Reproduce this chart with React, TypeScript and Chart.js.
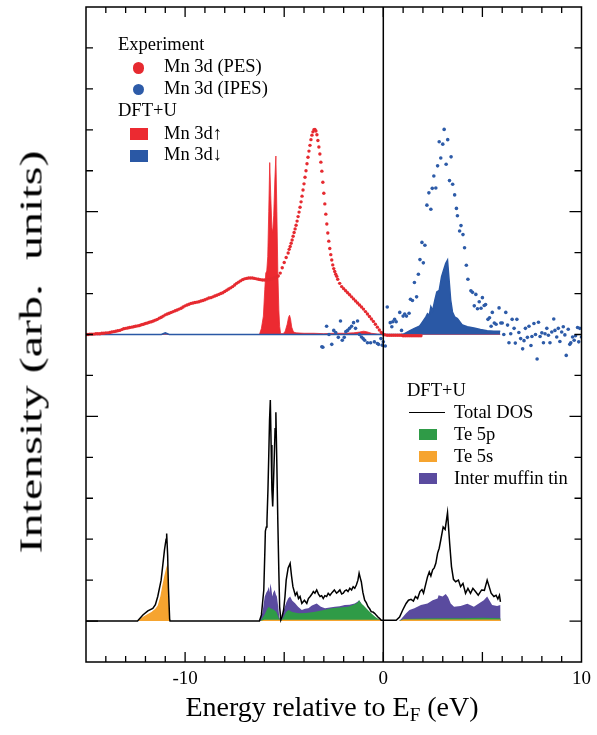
import React, { useEffect, useRef } from 'react';
import { Chart, registerables } from 'chart.js';
Chart.register(...registerables);

// ---------- axes ----------
const X_MIN = -15;
const X_MAX = 10;
const Y_MIN = -1;
const Y_MAX = 15;
const TOP_BASE = 7; // baseline of the upper (Mn 3d) panel on the shared intensity axis
const X_LABELS = [-10, 0, 10];

// ---------- Experiment: Mn 3d (PES), three sampled segments ----------
const pesStartA = -15.0, pesStepA = 0.1;
const pesA = [
  0.00, 0.00, 0.01, 0.01, 0.01, 0.02, 0.02, 0.02, 0.03, 0.03,
  0.04, 0.04, 0.05, 0.06, 0.07, 0.08, 0.09, 0.10, 0.12, 0.14,
  0.15, 0.16, 0.17, 0.18, 0.19, 0.20, 0.21, 0.22, 0.24, 0.25,
  0.27, 0.28, 0.30, 0.31, 0.33, 0.35, 0.37, 0.40, 0.42, 0.45,
  0.48, 0.50, 0.52, 0.54, 0.56, 0.58, 0.60, 0.62, 0.64, 0.67,
  0.70, 0.72, 0.74, 0.76, 0.77, 0.78, 0.79, 0.80, 0.82, 0.83,
  0.85, 0.87, 0.89, 0.90, 0.92, 0.94, 0.96, 0.98, 1.00, 1.02,
  1.05, 1.08, 1.11, 1.14, 1.17, 1.21, 1.25, 1.28, 1.31, 1.34,
  1.36, 1.37, 1.38, 1.38, 1.38, 1.37, 1.36, 1.35, 1.34, 1.33,
  1.33, 1.33, 1.34, 1.35, 1.36, 1.38, 1.40, 1.43, 1.50, 1.63,
  1.76, 1.88, 1.99,
];
const pesStartB = -4.75, pesStepB = 0.05;
const pesB = [
  2.08, 2.15, 2.23, 2.31, 2.40, 2.49, 2.58, 2.67, 2.77, 2.88,
  2.99, 3.11, 3.24, 3.38, 3.53, 3.68, 3.84, 4.00, 4.17, 4.33,
  4.48, 4.62, 4.76, 4.87, 4.95, 5.00, 5.01, 4.97, 4.88, 4.74,
  4.58, 4.41, 4.21, 3.99, 3.72, 3.45, 3.19, 2.94, 2.70, 2.48,
  2.28, 2.10, 1.95, 1.82, 1.70, 1.61, 1.54, 1.47, 1.42,
];
const pesStartC = -2.3, pesStepC = 0.1;
const pesC = [
  1.35, 1.25, 1.17, 1.12, 1.07, 1.02, 0.97, 0.92, 0.87, 0.82,
  0.77, 0.72, 0.67, 0.62, 0.56, 0.50, 0.44, 0.38, 0.32, 0.25,
  0.18, 0.11, 0.05, 0.01, -0.01, -0.02, -0.02, -0.02, -0.02, -0.02,
  -0.02, -0.02, -0.02, -0.03, -0.03, -0.03, -0.03, -0.03, -0.03, -0.03,
  -0.03, -0.03, -0.03,
];

// ---------- Experiment: Mn 3d (IPES) ----------
const ipesE = [
  -3.10, -3.05, -2.86, -2.74, -2.60, -2.50, -2.40, -2.27, -2.16, -2.07,
  -1.97, -1.89, -1.80, -1.70, -1.60, -1.50, -1.40, -1.30, -1.20, -1.10,
  -1.02, -0.94, -0.80, -0.64, -0.45, -0.30, -0.24, -0.12, -0.05, 0.00,
  0.10, 0.20, 0.35, 0.43, 0.48, 0.57, 0.65, 0.83, 0.92, 1.00,
  1.08, 1.17, 1.30, 1.37, 1.47, 1.57, 1.68, 1.77, 1.85, 1.95,
  2.02, 2.10, 2.20, 2.30, 2.40, 2.47, 2.55, 2.65, 2.74, 2.82,
  2.90, 3.00, 3.07, 3.17, 3.25, 3.34, 3.42, 3.50, 3.60, 3.69,
  3.74, 3.85, 3.92, 4.02, 4.10, 4.19, 4.27, 4.42, 4.50, 4.59,
  4.67, 4.75, 4.84, 4.93, 5.00, 5.09, 5.16, 5.28, 5.36, 5.44,
  5.50, 5.60, 5.69, 5.84, 5.93, 6.00, 6.08, 6.18, 6.27, 6.34,
  6.43, 6.50, 6.60, 6.66, 6.74, 6.84, 6.93, 7.03, 7.10, 7.17,
  7.27, 7.35, 7.45, 7.50, 7.60, 7.68, 7.76, 7.83, 7.91, 8.00,
  8.08, 8.16, 8.25, 8.33, 8.41, 8.50, 8.60, 8.66, 8.75, 8.83,
  8.91, 9.00, 9.08, 9.16, 9.23, 9.33, 9.41, 9.46, 9.55, 9.63,
  9.70, 9.80, 9.86, 9.91, 10.00,
];
const ipesI = [
  -0.30, -0.31, 0.20, 0.00, -0.24, 0.10, 0.05, -0.07, 0.33, -0.14,
  -0.07, 0.07, 0.10, 0.15, 0.20, 0.29, 0.15, 0.33, 0.00, -0.06,
  -0.10, -0.14, -0.20, -0.20, -0.18, -0.22, -0.24, -0.10, -0.26, -0.18,
  -0.28, 0.67, 0.29, 0.19, 0.31, 0.37, 0.31, 0.54, 0.10, 0.45,
  0.50, 0.45, 0.52, 0.86, 0.83, 1.27, 0.92, 1.47, 1.83, 2.25,
  1.75, 2.18, 3.16, 3.46, 3.06, 3.57, 3.87, 3.58, 4.12, 4.71,
  4.31, 4.65, 5.01, 4.16, 4.76, 3.76, 4.34, 3.67, 3.41, 3.08,
  2.90, 2.53, 2.66, 2.44, 2.12, 1.69, 1.35, 1.07, 1.03, 0.70,
  0.98, 0.63, 0.80, 0.64, 0.90, 0.71, 0.73, 0.37, 0.41, 0.20,
  0.54, 0.28, 0.25, 0.65, 0.28, 0.28, 0.00, 0.54, 0.23, -0.20,
  0.02, 0.37, 0.15, -0.21, 0.37, 0.05, -0.10, -0.35, -0.15, 0.15,
  -0.07, 0.20, -0.27, -0.05, 0.27, 0.00, -0.60, 0.30, -0.05, 0.04,
  -0.20, 0.02, 0.15, -0.02, -0.20, 0.06, 0.38, 0.10, -0.06, 0.15,
  -0.17, 0.06, 0.19, -0.01, -0.51, 0.13, -0.24, -0.20, -0.06, -0.14,
  -0.03, 0.17, -0.18, 0.15, -0.06,
];

// ---------- DFT+U: Mn 3d spin up / spin down ----------
const upE = [
  -15, -6.25, -6.15, -6.05, -5.98, -5.93, -5.88, -5.83, -5.78, -5.73,
  -5.68, -5.62, -5.58, -5.53, -5.47, -5.42, -5.37, -5.32, -5.27, -5.23,
  -5.18, -5.05, -4.95, -4.85, -4.78, -4.73, -4.68, -4.62, -4.53, -4.40,
  -4.00, -3.50, -3.00, -2.50, -2.00, -1.50, -1.20, -1.00, -0.85, -0.60,
  -0.30, 0.00, 5.90,
];
const upI = [
  0, 0, 0.15, 0.45, 1.10, 1.50, 1.55, 1.90, 3.00, 4.20,
  3.40, 2.60, 2.50, 2.90, 3.80, 4.36, 3.00, 1.50, 0.60, 0.20,
  0.02, 0.02, 0.08, 0.25, 0.42, 0.47, 0.38, 0.18, 0.06, 0.04,
  0.03, 0.03, 0.02, 0.03, 0.03, 0.04, 0.06, 0.08, 0.07, 0.03,
  0.01, 0, 0,
];
const dnE = [
  -15, -11.2, -11.0, -10.8, 0.90, 1.07, 1.32, 1.57, 1.82, 1.98,
  2.15, 2.23, 2.32, 2.40, 2.49, 2.60, 2.70, 2.82, 2.94, 3.04,
  3.15, 3.24, 3.32, 3.40, 3.49, 3.60, 3.74, 3.99, 4.24, 4.57,
  4.90, 5.24, 5.58, 5.90,
];
const dnI = [
  0, 0, 0.04, 0, 0, 0.02, 0.09, 0.15, 0.20, 0.31,
  0.43, 0.51, 0.47, 0.68, 0.59, 0.84, 1.04, 1.08, 1.41, 1.57,
  1.74, 1.82, 1.33, 0.84, 0.55, 0.43, 0.39, 0.23, 0.19, 0.16,
  0.12, 0.09, 0.08, 0.08,
];

// ---------- DFT+U: lower panel ----------
const totE = [
  -15, -12.40, -12.13, -11.88, -11.63, -11.50, -11.38, -11.21, -11.04, -10.96,
  -10.93, -10.88, -10.84, -10.78, -10.76, -6.25, -6.15, -6.03, -5.97, -5.95,
  -5.90, -5.87, -5.82, -5.78, -5.74, -5.70, -5.66, -5.62, -5.58, -5.54,
  -5.50, -5.46, -5.42, -5.37, -5.32, -5.27, -5.23, -5.17, -5.10, -5.03,
  -4.96, -4.90, -4.80, -4.70, -4.63, -4.56, -4.44, -4.36, -4.28, -4.20,
  -4.11, -3.98, -3.86, -3.78, -3.69, -3.60, -3.53, -3.45, -3.36, -3.27,
  -3.19, -3.11, -3.03, -2.95, -2.86, -2.78, -2.69, -2.58, -2.47, -2.36,
  -2.27, -2.19, -2.10, -2.02, -1.94, -1.86, -1.78, -1.69, -1.60, -1.52,
  -1.44, -1.36, -1.28, -1.22, -1.16, -1.11, -1.03, -0.94, -0.86, -0.77,
  -0.69, -0.61, -0.52, -0.44, -0.35, -0.27, -0.18, -0.10, 0.00, 0.23,
  0.65, 0.82, 0.98, 1.15, 1.27, 1.40, 1.52, 1.62, 1.73, 1.85,
  1.95, 2.03, 2.15, 2.23, 2.32, 2.40, 2.49, 2.57, 2.65, 2.74,
  2.82, 2.90, 3.02, 3.12, 3.24, 3.35, 3.44, 3.54, 3.65, 3.79,
  3.90, 4.02, 4.15, 4.27, 4.40, 4.52, 4.65, 4.79, 4.96, 5.10,
  5.24, 5.33, 5.44, 5.58, 5.69, 5.78, 5.86, 5.91,
];
const totI = [
  0, 0, 0.15, 0.25, 0.31, 0.40, 0.60, 1.00, 1.74, 2.00,
  2.14, 1.60, 0.80, 0.05, 0, 0, 0.15, 0.76, 1.80, 2.20,
  2.30, 2.43, 3.20, 4.02, 4.90, 5.40, 4.30, 3.20, 2.80, 3.40,
  4.02, 4.70, 5.10, 3.80, 2.39, 1.20, 0.35, 0.03, 0.12, 0.27,
  0.60, 1.00, 1.30, 1.41, 1.10, 0.84, 0.63, 0.70, 0.55, 0.60,
  0.43, 0.51, 0.43, 0.55, 0.60, 0.66, 0.72, 0.68, 0.76, 0.66,
  0.60, 0.62, 0.55, 0.62, 0.60, 0.68, 0.63, 0.70, 0.76, 0.68,
  0.72, 0.76, 0.66, 0.68, 0.74, 0.76, 0.72, 0.80, 0.76, 0.84,
  0.80, 0.88, 1.00, 1.17, 1.05, 0.96, 0.70, 0.51, 0.45, 0.35,
  0.30, 0.23, 0.22, 0.19, 0.14, 0.10, 0.06, 0.02, 0.02, 0.02,
  0.02, 0.10, 0.27, 0.43, 0.51, 0.53, 0.49, 0.60, 0.55, 0.72,
  0.77, 0.68, 0.92, 1.08, 1.20, 1.10, 1.25, 1.30, 1.41, 1.66,
  1.78, 1.98, 2.30, 2.24, 2.65, 1.89, 1.33, 1.02, 0.96, 1.00,
  0.84, 0.92, 0.68, 0.80, 0.68, 0.80, 0.72, 0.63, 0.76, 0.75,
  1.00, 0.86, 0.68, 0.60, 0.63, 0.54, 0.63, 0.47,
];
const imtE = [
  -6.25, -6.10, -5.98, -5.90, -5.83, -5.78, -5.74, -5.70, -5.65, -5.60,
  -5.55, -5.48, -5.42, -5.37, -5.30, -5.25, -5.17, -5.10, -5.03, -4.90,
  -4.80, -4.70, -4.60, -4.44, -4.30, -4.11, -3.95, -3.78, -3.60, -3.36,
  -3.15, -2.94, -2.70, -2.44, -2.20, -1.94, -1.70, -1.44, -1.30, -1.22,
  -1.10, -0.94, -0.80, -0.61, -0.40, -0.20, 0.00, 0.80, 0.90, 1.15,
  1.32, 1.57, 1.90, 2.23, 2.49, 2.74, 2.79, 2.99, 3.15, 3.27,
  3.40, 3.57, 3.90, 4.24, 4.57, 4.82, 5.07, 5.24, 5.49, 5.74,
  5.91, 5.92,
];
const imtI = [
  0, 0.20, 0.60, 0.70, 0.75, 0.84, 0.70, 0.92, 0.80, 0.60,
  0.70, 0.76, 0.65, 0.60, 0.35, 0.10, 0, 0.10, 0.25, 0.45,
  0.55, 0.60, 0.50, 0.43, 0.35, 0.27, 0.30, 0.31, 0.38, 0.43,
  0.35, 0.31, 0.33, 0.35, 0.36, 0.39, 0.40, 0.43, 0.47, 0.51,
  0.42, 0.27, 0.18, 0.10, 0.05, 0.02, 0, 0, 0.05, 0.19,
  0.27, 0.31, 0.39, 0.43, 0.51, 0.55, 0.63, 0.60, 0.66, 0.58,
  0.43, 0.35, 0.37, 0.42, 0.35, 0.43, 0.51, 0.60, 0.39, 0.37,
  0.39, 0,
];
const te5pE = [
  -6.20, -6.00, -5.85, -5.78, -5.70, -5.55, -5.40, -5.25, -5.17, -5.05,
  -4.90, -4.78, -4.60, -4.28, -3.90, -3.44, -3.00, -2.61, -2.20, -1.77,
  -1.50, -1.30, -1.22, -1.10, -1.02, -0.80, -0.61, -0.40, -0.20, -0.10,
  0.80, 1.00, 2.00, 3.00, 4.00, 5.00, 5.91, 5.92,
];
const te5pI = [
  0, 0.15, 0.30, 0.35, 0.31, 0.28, 0.23, 0.05, 0, 0.08,
  0.22, 0.27, 0.22, 0.19, 0.20, 0.23, 0.27, 0.31, 0.33, 0.35,
  0.40, 0.45, 0.51, 0.42, 0.39, 0.28, 0.19, 0.10, 0.04, 0,
  0, 0.05, 0.06, 0.07, 0.07, 0.08, 0.07, 0,
];
const te5sE = [
  -12.40, -12.20, -11.97, -11.70, -11.50, -11.38, -11.25, -11.16, -11.05, -10.95,
  -10.88, -10.85, -10.80, -10.76, -6.20, -6.00, -5.20, -5.17, -5.10, -0.20,
  0.00, 0.80, 1.00, 5.91, 5.92,
];
const te5sI = [
  0, 0.08, 0.15, 0.22, 0.30, 0.38, 0.60, 0.84, 1.10, 1.30,
  1.41, 1.00, 0.30, 0, 0, 0.03, 0.03, 0, 0.03, 0.03,
  0, 0, 0.04, 0.04, 0,
];

// ---------- colours ----------
const C_PES = '#e62a30';
const C_IPES = '#2d5ba8';
const C_UP = '#ec2a31';
const C_DN = '#2a58a5';
const C_IMT = '#5a4b9f';
const C_TE5P = '#2f9b47';
const C_TE5S = '#f6a42f';
const FONT = '"Liberation Serif", "Times New Roman", serif';

const pairs = (xs: number[], ys: number[], off = 0) => xs.map((x, i) => ({ x, y: ys[i] + off }));
const grid = (start: number, step: number, ys: number[], off = 0) =>
  ys.map((y, i) => ({ x: Math.round((start + i * step) * 1000) / 1000, y: y + off }));

const framePlugin = {
  id: 'frame',
  afterDatasetsDraw(chart: any) {
    const { ctx, chartArea: a, scales } = chart;
    const x = scales.x;
    const y = scales.y;
    ctx.save();
    ctx.strokeStyle = '#000';
    ctx.lineWidth = 1.5;
    ctx.strokeRect(a.left, a.top, a.right - a.left, a.bottom - a.top);
    const x0 = x.getPixelForValue(0);
    ctx.beginPath();
    ctx.moveTo(x0, a.top);
    ctx.lineTo(x0, a.bottom);
    ctx.stroke();
    ctx.lineWidth = 1.3;
    ctx.beginPath();
    for (let v = X_MIN + 1; v < X_MAX; v++) {
      const px = x.getPixelForValue(v);
      const len = v % 5 === 0 ? 10 : 6;
      ctx.moveTo(px, a.bottom);
      ctx.lineTo(px, a.bottom - len);
      ctx.moveTo(px, a.top);
      ctx.lineTo(px, a.top + len);
    }
    for (let v = Y_MIN + 1; v < Y_MAX; v++) {
      const py = y.getPixelForValue(v);
      const len = v % 5 === 0 ? 12 : 7;
      ctx.moveTo(a.left, py);
      ctx.lineTo(a.left + len, py);
      ctx.moveTo(a.right, py);
      ctx.lineTo(a.right - len, py);
    }
    ctx.stroke();
    ctx.restore();
  },
};

function Txt({ x, y, size, children, center }: any) {
  return (
    <div
      style={{
        position: 'absolute',
        left: x,
        top: y - 0.8375 * size,
        fontSize: size,
        lineHeight: `${size}px`,
        whiteSpace: 'nowrap',
        transform: center ? 'translateX(-50%)' : undefined,
      }}
    >
      {children}
    </div>
  );
}

function Box({ x, y, w, h, color, round }: any) {
  return (
    <div
      style={{
        position: 'absolute',
        left: x,
        top: y,
        width: w,
        height: h,
        background: color,
        borderRadius: round ? '50%' : 0,
      }}
    />
  );
}

export default function App() {
  const ref = useRef<HTMLCanvasElement>(null);
  useEffect(() => {
    const pes = [
      ...grid(pesStartA, pesStepA, pesA, TOP_BASE),
      ...grid(pesStartB, pesStepB, pesB, TOP_BASE),
      ...grid(pesStartC, pesStepC, pesC, TOP_BASE),
    ];
    const fillSet = (label: string, data: any[], color: string, base: number, order: number, bw = 0, bc?: string) => ({
      label,
      data,
      borderColor: bc || color,
      backgroundColor: color,
      borderWidth: bw,
      pointRadius: 0,
      fill: { value: base },
      tension: 0,
      order,
    });
    const chart = new Chart(ref.current as HTMLCanvasElement, {
      type: 'line',
      data: {
        datasets: [
          {
            label: 'Total DOS',
            data: pairs(totE, totI),
            borderColor: '#000',
            borderWidth: 1.5,
            pointRadius: 0,
            fill: false,
            tension: 0,
            order: 1,
          } as any,
          fillSet('Te 5s', pairs(te5sE, te5sI), C_TE5S, 0, 2),
          fillSet('Te 5p', pairs(te5pE, te5pI), C_TE5P, 0, 3),
          fillSet('Inter muffin tin', pairs(imtE, imtI), C_IMT, 0, 4),
          {
            label: 'Mn 3d (IPES)',
            data: pairs(ipesE, ipesI, TOP_BASE),
            showLine: false,
            pointRadius: 1.8,
            pointBorderWidth: 0,
            pointBackgroundColor: C_IPES,
            backgroundColor: C_IPES,
            borderColor: C_IPES,
            order: 5,
          } as any,
          {
            label: 'Mn 3d (PES)',
            data: pes,
            showLine: false,
            pointRadius: 1.7,
            pointBorderWidth: 0,
            pointBackgroundColor: C_PES,
            backgroundColor: C_PES,
            borderColor: C_PES,
            order: 6,
          } as any,
          fillSet('Mn 3d down', pairs(dnE, dnI, TOP_BASE), C_DN, TOP_BASE, 7, 1.5),
          fillSet('Mn 3d up', pairs(upE, upI, TOP_BASE), C_UP, TOP_BASE, 8, 0.8),
        ],
      },
      options: {
        animation: false,
        responsive: false,
        devicePixelRatio: 1,
        layout: { padding: { top: 7, right: 12, left: 0, bottom: 0 } },
        plugins: { legend: { display: false }, tooltip: { enabled: false } },
        scales: {
          x: {
            type: 'linear',
            min: X_MIN,
            max: X_MAX,
            grid: { display: false, drawTicks: false },
            border: { display: false },
            ticks: {
              stepSize: 1,
              autoSkip: false,
              maxRotation: 0,
              padding: 6,
              color: '#000',
              font: { family: FONT, size: 19 },
              callback: (v: any) => (X_LABELS.includes(Number(v)) ? String(v) : ''),
            },
            afterFit: (s: any) => {
              s.height = 73;
            },
          },
          y: {
            type: 'linear',
            min: Y_MIN,
            max: Y_MAX,
            grid: { display: false, drawTicks: false },
            border: { display: false },
            ticks: { display: false },
            afterFit: (s: any) => {
              s.width = 86;
            },
          },
        },
      } as any,
      plugins: [framePlugin],
    });
    return () => chart.destroy();
  }, []);

  return (
    <div
      style={{
        position: 'absolute',
        left: 0,
        top: 0,
        width: 597,
        height: 735,
        background: '#fff',
        color: '#000',
        fontFamily: FONT,
        overflow: 'hidden',
      }}
    >
      <canvas ref={ref} width={597} height={735} style={{ position: 'absolute', left: 0, top: 0, width: 597, height: 735 }} />

      {/* upper legend */}
      <Txt x={118} y={50.7} size={18.5}>Experiment</Txt>
      <Box x={132.5} y={62} w={11.5} h={11.5} color={C_PES} round />
      <Txt x={164} y={72.6} size={18.5}>Mn 3d (PES)</Txt>
      <Box x={132.5} y={83.5} w={11.5} h={11.5} color={C_IPES} round />
      <Txt x={164} y={94.2} size={18.5}>Mn 3d (IPES)</Txt>
      <Txt x={118} y={116} size={18.5}>DFT+U</Txt>
      <Box x={130} y={128} w={18} h={12} color={C_UP} />
      <Txt x={164} y={139} size={18.5}>Mn 3d↑</Txt>
      <Box x={130} y={149.5} w={18} h={12} color={C_DN} />
      <Txt x={164} y={160.5} size={18.5}>Mn 3d↓</Txt>

      {/* lower legend */}
      <Txt x={407} y={396} size={18.5}>DFT+U</Txt>
      <div style={{ position: 'absolute', left: 409, top: 411.5, width: 36, height: 1.5, background: '#000' }} />
      <Txt x={454} y={418} size={18.5}>Total DOS</Txt>
      <Box x={419} y={429} w={18} h={11} color={C_TE5P} />
      <Txt x={454} y={440} size={18.5}>Te 5p</Txt>
      <Box x={419} y={451} w={18} h={11} color={C_TE5S} />
      <Txt x={454} y={462} size={18.5}>Te 5s</Txt>
      <Box x={419} y={473} w={18} h={11} color={C_IMT} />
      <Txt x={454} y={484} size={18.5}>Inter muffin tin</Txt>

      {/* axis titles */}
      <Txt x={332} y={716} size={28} center>
        Energy relative to E<span style={{ fontSize: '0.68em', position: 'relative', top: '0.3em' }}>F</span> (eV)
      </Txt>
      <div
        style={{
          position: 'absolute',
          left: 31,
          top: 352,
          fontSize: 31,
          lineHeight: '31px',
          whiteSpace: 'nowrap',
          transform: 'translate(-50%, -50%) rotate(-90deg) scaleX(1.55)',
        }}
      >
        Intensity (arb.&nbsp; units)
      </div>
    </div>
  );
}
